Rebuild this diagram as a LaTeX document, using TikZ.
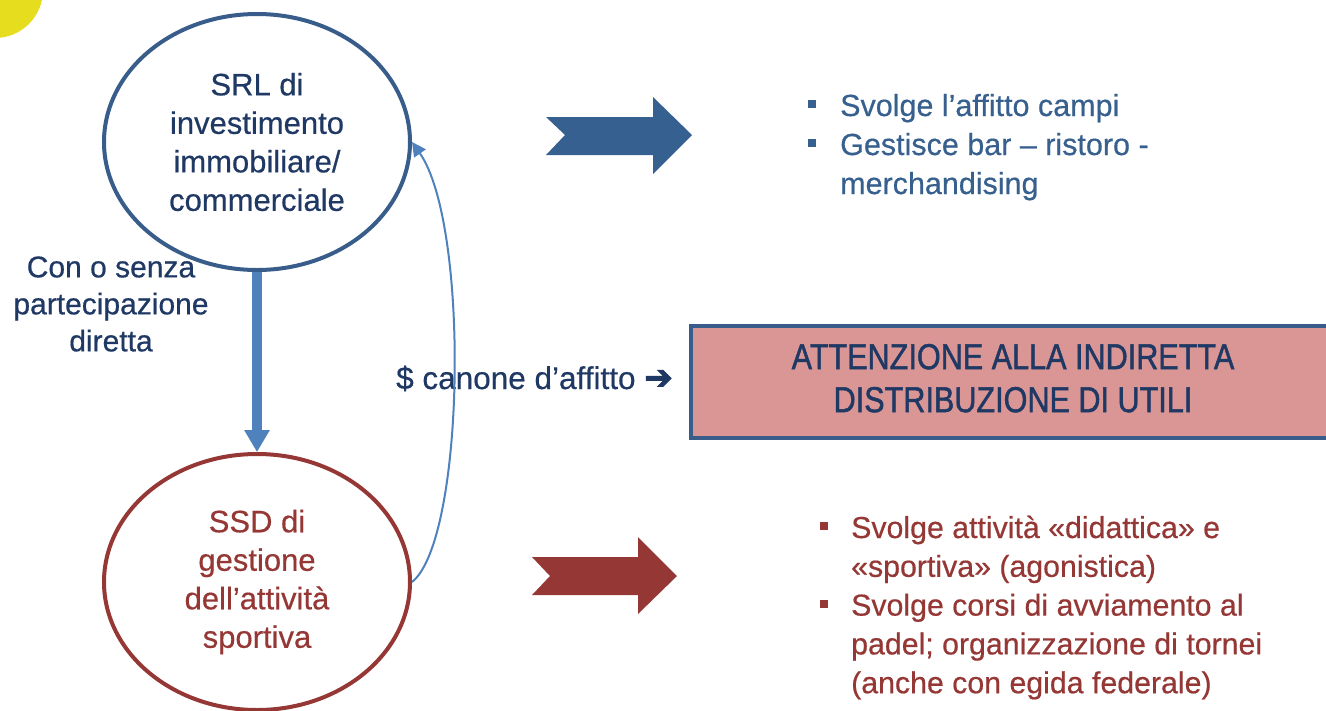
\documentclass[tikz,border=0pt]{standalone}
\usepackage{fontspec}
\setmainfont{Liberation Sans}[FakeBold=0.5]
\newfontfamily\djv{DejaVu Sans}[FakeBold=2.5]
\newfontfamily\boxfont{Liberation Sans}[FakeBold=1.4]
\usetikzlibrary{shapes.geometric,arrows.meta}
\definecolor{navy}{HTML}{1F3864}
\definecolor{blueborder}{HTML}{385D8A}
\definecolor{bluetext}{HTML}{37608F}
\definecolor{bluearrow}{HTML}{36608F}
\definecolor{darkred}{HTML}{953735}
\definecolor{lightblue}{HTML}{4F81BD}
\definecolor{pinkfill}{HTML}{D99694}
\definecolor{yellowdot}{HTML}{E6DD1E}
\newcommand\bulsq{\raisebox{8pt}{\rule{8pt}{8pt}}}
\tikzset{
  bigfont/.style={font=\fontsize{31}{38.5}\selectfont},
  oval/.style={ellipse, line width=4pt, minimum width=306pt, minimum height=256pt, inner sep=0pt, align=center, bigfont},
  listtext/.style={anchor=base west, inner sep=0pt, font=\fontsize{30.5}{39}\selectfont}
}
\begin{document}
\begin{tikzpicture}[x=1pt,y=-1pt]
\useasboundingbox (0,0) rectangle (1326,710);
\clip (0,0) rectangle (1326,710);
\fill[yellowdot] (-5,-10) circle[radius=48pt];

% side label
\node[align=center, text=navy, font=\fontsize{30}{37}\selectfont] (label) at (111,304) {Con o senza\\partecipazione\\diretta};

% ovals
\node[oval, draw=blueborder, text=navy] (srl) at (257,142) {SRL di\\investimento\\immobiliare/\\commerciale};
\node[oval, draw=darkred, text=darkred] (ssd) at (257,582) {SSD di\\gestione\\dell’attività\\sportiva};

% vertical arrow with shadow
\draw[black, opacity=0.18, line width=10pt, -{Triangle[width=24pt,length=22pt]}, shift={(2,3)}] (srl.south) -- (ssd.north);
\draw[lightblue, line width=10pt, -{Triangle[width=24pt,length=22pt]}] (srl.south) -- (ssd.north);

% rent label
\node[anchor=base west, inner sep=0pt, text=navy, font=\fontsize{31.5}{38}\selectfont] (canone) at (396,389) {\$ canone d’affitto {\djv\fontsize{34}{38}\selectfont ➔}};

% curved arrow
\draw[lightblue, line width=2pt, -{Triangle[width=14pt,length=14pt]}] (ssd.east) .. controls (465,540) and (470,225) .. (srl.east);

% block arrows
\fill[bluearrow] (546,117) -- (653,117) -- (653,97) -- (692,135) -- (653,174) -- (653,155) -- (546,155) -- (565,135) -- cycle;
\fill[darkred] (532,557) -- (638,557) -- (638,537) -- (677,576) -- (638,614) -- (638,595) -- (532,595) -- (550,576) -- cycle;

% warning box
\node[draw=blueborder, fill=pinkfill, line width=4pt, minimum width=644pt, minimum height=112pt, inner sep=0pt, text=navy] (warn) at (1013,382)
  {\boxfont\fontsize{36}{43}\selectfont\scalebox{0.85}[1]{\begin{tabular}{@{}c@{}}ATTENZIONE ALLA INDIRETTA\\DISTRIBUZIONE DI UTILI\end{tabular}}};

% lists
\node[listtext, text=bluetext] (srllist) at (808,116) {\begin{tabular}[t]{@{}l@{\hspace{24pt}}l@{}}
\bulsq & Svolge l’affitto campi\\
\bulsq & Gestisce bar – ristoro -\\
 & merchandising
\end{tabular}};
\node[listtext, text=darkred, font=\fontsize{30.3}{38.8}\selectfont] (ssdlist) at (820,538) {\begin{tabular}[t]{@{}l@{\hspace{23pt}}l@{}}
\bulsq & Svolge attività «didattica» e\\
 & «sportiva» (agonistica)\\
\bulsq & Svolge corsi di avviamento al\\
 & padel; organizzazione di tornei\\
 & (anche con egida federale)
\end{tabular}};
\end{tikzpicture}
\end{document}
